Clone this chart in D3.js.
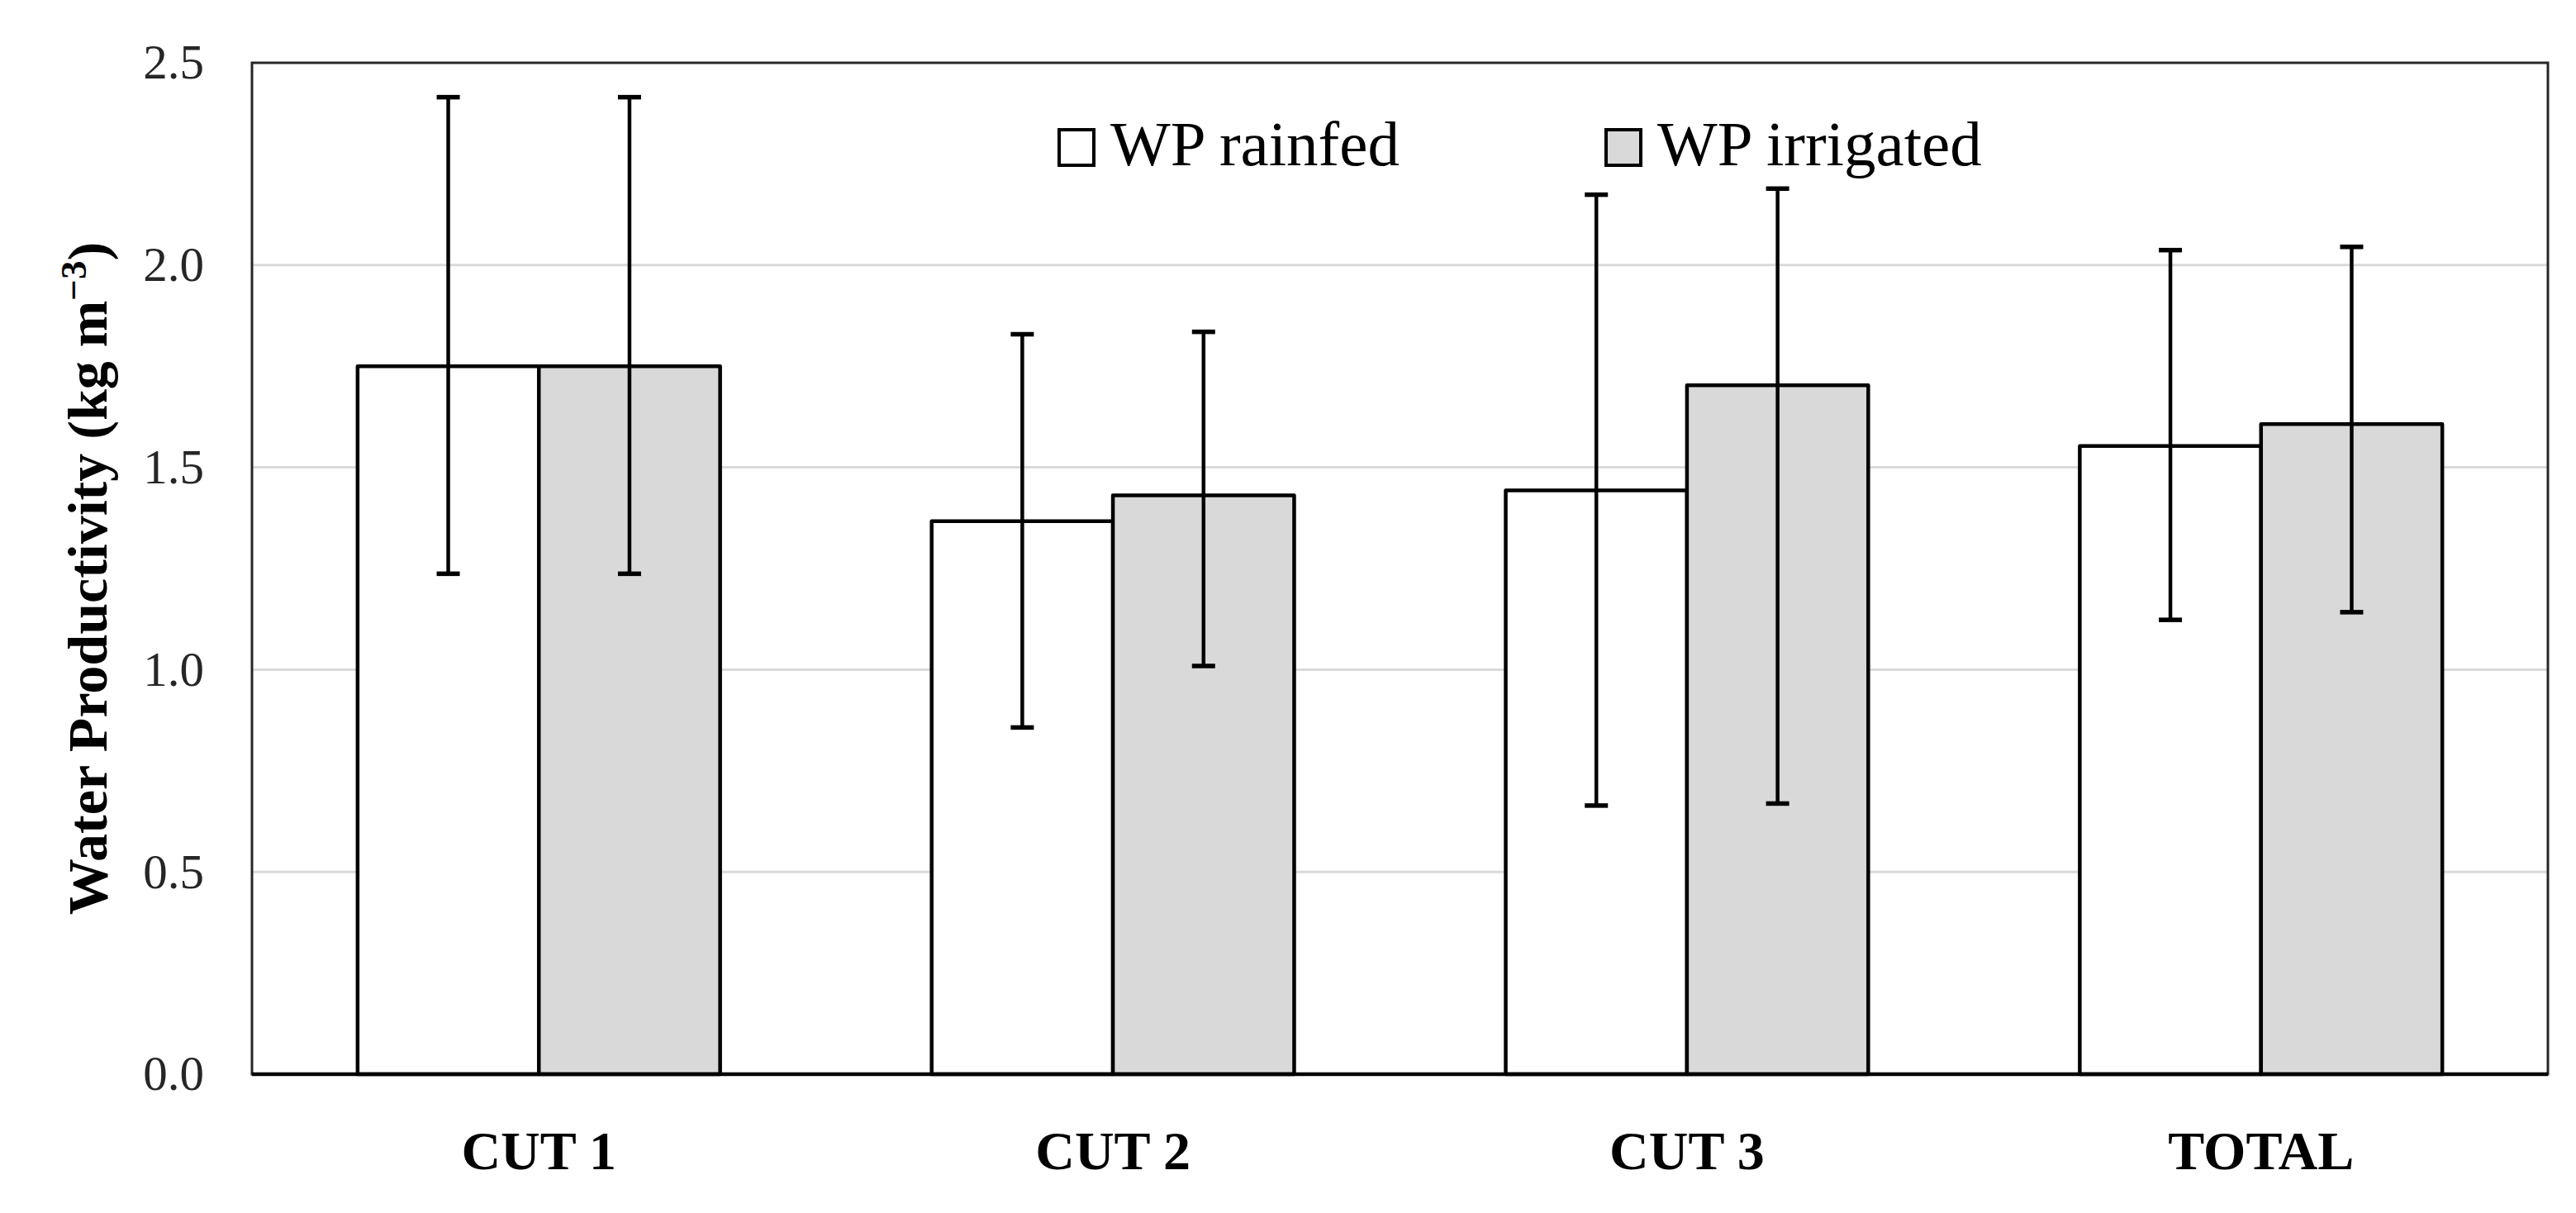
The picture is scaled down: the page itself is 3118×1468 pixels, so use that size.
<!DOCTYPE html>
<html>
<head>
<meta charset="utf-8">
<script src="https://cdn.jsdelivr.net/npm/d3@7"></script>
<style>
  html, body { margin: 0; padding: 0; background: #fff; }
  svg { display: block; }
  text { font-family: "Palatino Linotype", "Book Antiqua", Palatino, "Liberation Serif", serif; }
</style>
</head>
<body>
<svg id="chart" width="3118" height="1468"></svg>
<script>
// ---- data ----
const categories = ["CUT 1", "CUT 2", "CUT 3", "TOTAL"];
const seriesNames = ["WP rainfed", "WP irrigated"];
const rainfed = [1.75, 1.367, 1.443, 1.553];
const irrigated = [1.75, 1.431, 1.703, 1.607];
const rainfedHigh = [2.415, 1.829, 2.174, 2.037];
const rainfedLow = [1.237, 0.857, 0.664, 1.123];
const irrigatedHigh = [2.415, 1.835, 2.189, 2.045];
const irrigatedLow = [1.237, 1.009, 0.669, 1.142];
const yTicks = [0.0, 0.5, 1.0, 1.5, 2.0, 2.5];
const seriesFill = ["#ffffff", "#d9d9d9"];

// ---- layout ----
const svg = d3.select("#chart");
const plot = { left: 305, right: 3084, top: 76, bottom: 1300 };

const x0 = d3.scaleBand().domain(categories)
  .range([plot.left, plot.right]).paddingInner(0.3685).paddingOuter(0.184);
const x1 = d3.scaleBand().domain(seriesNames).range([0, x0.bandwidth()]).padding(0);
const y = d3.scaleLinear().domain([0, 2.5]).range([plot.bottom, plot.top]);

const rows = categories.map((c, i) => ({
  cat: c,
  vals: [
    { s: seriesNames[0], v: rainfed[i], lo: rainfedLow[i], hi: rainfedHigh[i], fill: seriesFill[0] },
    { s: seriesNames[1], v: irrigated[i], lo: irrigatedLow[i], hi: irrigatedHigh[i], fill: seriesFill[1] }
  ]
}));

// gridlines
svg.append("g").selectAll("line").data(yTicks.filter(t => t > 0 && t < 2.5)).join("line")
  .attr("x1", plot.left).attr("x2", plot.right)
  .attr("y1", d => y(d)).attr("y2", d => y(d))
  .attr("stroke", "#d9d9d9").attr("stroke-width", 3);

// bars
const groups = svg.append("g").selectAll("g").data(rows).join("g")
  .attr("transform", d => `translate(${x0(d.cat)},0)`);

groups.selectAll("rect").data(d => d.vals).join("rect")
  .attr("x", d => x1(d.s))
  .attr("y", d => y(d.v))
  .attr("width", x1.bandwidth())
  .attr("height", d => y(0) - y(d.v))
  .attr("fill", d => d.fill)
  .attr("stroke", "#000").attr("stroke-width", 4.5)
  .attr("stroke-linejoin", "round");

// error bars
const capW = 28;
groups.each(function(d) {
  const g = d3.select(this);
  d.vals.forEach(v => {
    const cx = x1(v.s) + x1.bandwidth() / 2;
    g.append("line").attr("x1", cx).attr("x2", cx)
      .attr("y1", y(v.lo)).attr("y2", y(v.hi))
      .attr("stroke", "#000").attr("stroke-width", 4.5);
    [v.lo, v.hi].forEach(e => {
      g.append("line").attr("x1", cx - capW / 2).attr("x2", cx + capW / 2)
        .attr("y1", y(e)).attr("y2", y(e))
        .attr("stroke", "#000").attr("stroke-width", 5.5);
    });
  });
});

// plot frame
svg.append("rect")
  .attr("x", plot.left).attr("y", plot.top)
  .attr("width", plot.right - plot.left).attr("height", plot.bottom - plot.top)
  .attr("fill", "none").attr("stroke", "#262626").attr("stroke-width", 3);
svg.append("line")
  .attr("x1", plot.left).attr("x2", plot.right)
  .attr("y1", y(0)).attr("y2", y(0))
  .attr("stroke", "#000").attr("stroke-width", 4.5);

// y axis labels
const yAxis = d3.axisLeft(y).tickValues(yTicks).tickFormat(d3.format(".1f")).tickSize(0).tickPadding(58);
const yg = svg.append("g").attr("transform", `translate(${plot.left},0)`).call(yAxis);
yg.select(".domain").remove();
yg.selectAll("text")
  .attr("font-size", 59).attr("fill", "#262626")
  .attr("font-family", "\"Palatino Linotype\", \"Book Antiqua\", Palatino, \"Liberation Serif\", serif");

// x axis labels
const xAxis = d3.axisBottom(x0).tickSize(0).tickPadding(0);
const xg = svg.append("g").attr("transform", `translate(0,${plot.bottom})`).call(xAxis);
xg.select(".domain").remove();
xg.selectAll("text")
  .attr("y", 115).attr("dy", 0)
  .attr("font-size", 66).attr("font-weight", "bold").attr("fill", "#000")
  .attr("font-family", "\"Palatino Linotype\", \"Book Antiqua\", Palatino, \"Liberation Serif\", serif");

// y title
const yt = svg.append("text")
  .attr("transform", `translate(129,${(plot.top + plot.bottom) / 2 + 12}) rotate(-90)`)
  .attr("text-anchor", "middle")
  .attr("font-size", 68).attr("font-weight", "bold").attr("fill", "#000");
yt.append("tspan").text("Water Productivity (kg m");
yt.append("tspan").attr("dy", -25).attr("font-size", 45).text("\u22123");
yt.append("tspan").attr("dy", 25).text(")");

// legend
const legendPos = [{ bx: 1282, tx: 1344 }, { bx: 1944, tx: 2006 }];
const lg = svg.append("g").selectAll("g").data(seriesNames).join("g");
lg.append("rect")
  .attr("x", (d, i) => legendPos[i].bx).attr("y", 157)
  .attr("width", 42).attr("height", 43)
  .attr("fill", (d, i) => seriesFill[i])
  .attr("stroke", "#000").attr("stroke-width", 4);
lg.append("text")
  .attr("x", (d, i) => legendPos[i].tx).attr("y", 200)
  .attr("font-size", 77).attr("fill", "#000")
  .text(d => d);
</script>
</body>
</html>
